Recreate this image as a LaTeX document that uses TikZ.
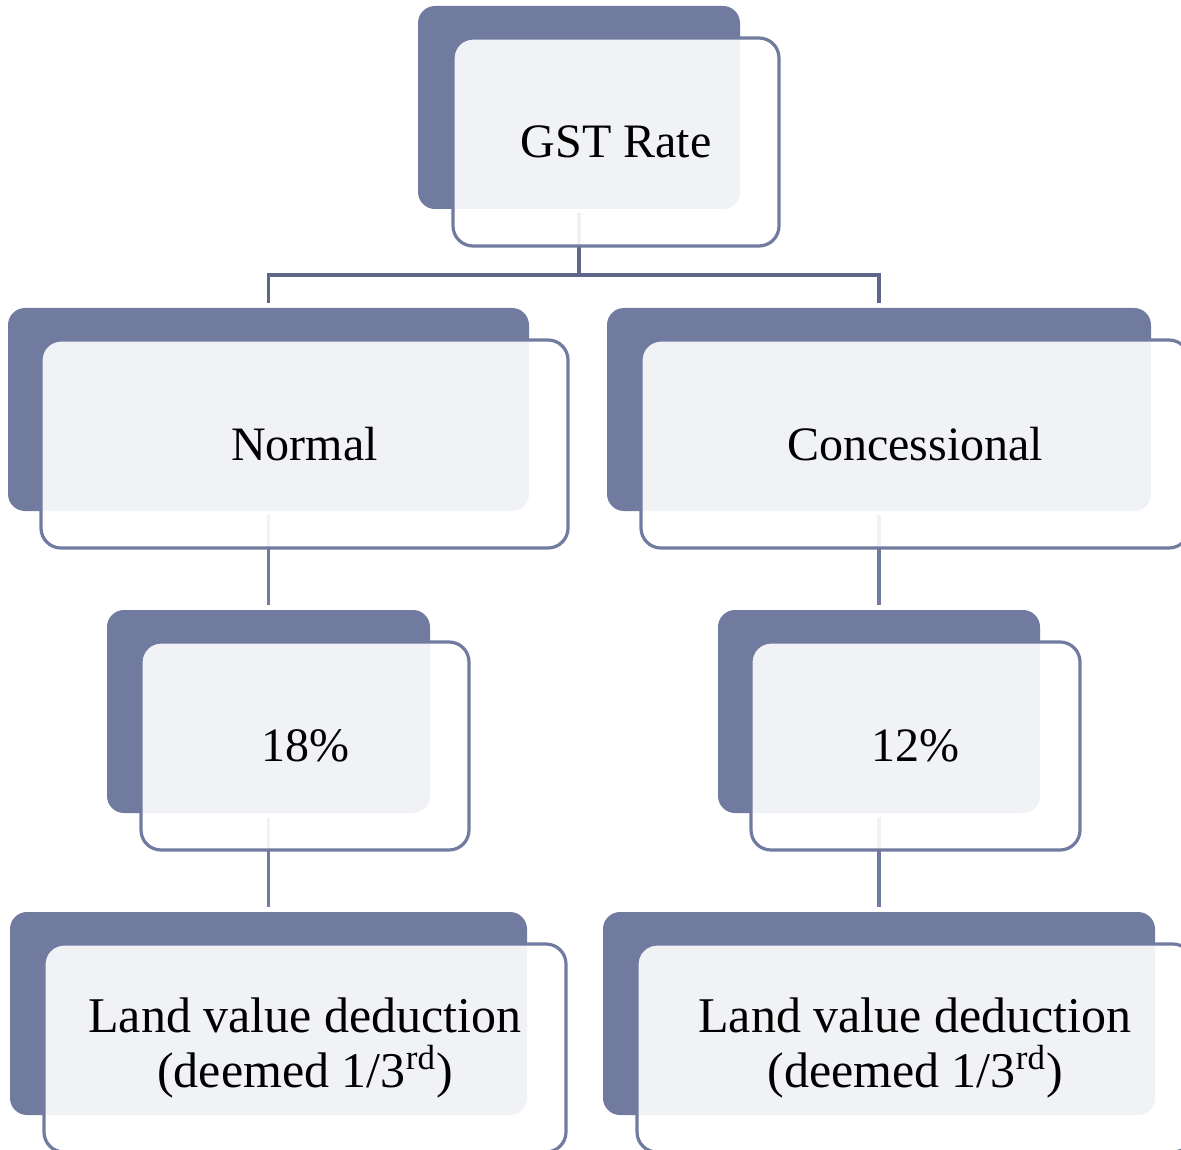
\documentclass[tikz,border=0pt]{standalone}
\usepackage{fontspec}
\setmainfont{Liberation Serif}
\usetikzlibrary{backgrounds}
\definecolor{darkbl}{HTML}{717BA0}
\definecolor{linebl}{HTML}{5E6789}
\tikzset{
  backbox/.style={draw=none, fill=darkbl, rounded corners=8.5pt, inner sep=0pt, minimum height=101.5pt},
  frontbox/.style={draw=darkbl, line width=1.6pt, fill=white, fill opacity=0.9, text opacity=1, rounded corners=10pt, inner sep=0pt, minimum height=104pt, align=center, font=\fontsize{24}{25}\selectfont},
  landtext/.style={font=\fontsize{25}{27.5}\selectfont},
  conn/.style={draw=darkbl, line width=1.6pt},
  topconn/.style={draw=linebl, line width=1.6pt}
}
\begin{document}
\begin{tikzpicture}[x=0.5pt, y=-0.5pt]
\useasboundingbox (0,0) rectangle (1181,1149);
% back boxes
\node[backbox, minimum width=161pt] (gstb) at (579,107.5) {};
\node[backbox, minimum width=260.5pt] (normb) at (268.5,409.5) {};
\node[backbox, minimum width=272pt] (concb) at (879,409.5) {};
\node[backbox, minimum width=161.5pt] (eighb) at (268.5,711.5) {};
\node[backbox, minimum width=161pt] (twelb) at (879,711.5) {};
\node[backbox, minimum width=258.5pt] (landlb) at (268.5,1013.5) {};
\node[backbox, minimum width=276pt] (landrb) at (879,1013.5) {};
% front boxes
\node[frontbox, minimum width=163pt] (gst) at (616,142) {GST Rate};
\node[frontbox, minimum width=263.5pt] (norm) at (304.5,444) {Normal};
\node[frontbox, minimum width=274pt] (conc) at (915,444) {Concessional};
\node[frontbox, minimum width=164pt] (eigh) at (305,746) {18\%};
\node[frontbox, minimum width=164.5pt] (twel) at (915.5,746) {12\%};
\node[frontbox, landtext, minimum width=261pt] (landl) at (305,1048) {Land value deduction\\(deemed 1/3\textsuperscript{rd})};
\node[frontbox, landtext, minimum width=278pt] (landr) at (915,1048) {Land value deduction\\(deemed 1/3\textsuperscript{rd})};
\coordinate (tier) at (579,275);
\begin{scope}[on background layer]
  \draw[topconn] ([yshift=-2pt]gstb.south) -- (tier);
  \draw[topconn, shorten >=2.5pt] (tier) -| (normb.north);
  \draw[topconn, shorten >=2.5pt] (tier) -| (concb.north);
  \draw[conn, shorten <=2pt, shorten >=2.5pt] (normb.south) -- (eighb.north);
  \draw[conn, shorten <=2pt, shorten >=2.5pt] (concb.south) -- (twelb.north);
  \draw[conn, shorten <=2pt, shorten >=2.5pt] (eighb.south) -- (landlb.north);
  \draw[conn, shorten <=2pt, shorten >=2.5pt] (twelb.south) -- (landrb.north);
\end{scope}
\end{tikzpicture}
\end{document}
